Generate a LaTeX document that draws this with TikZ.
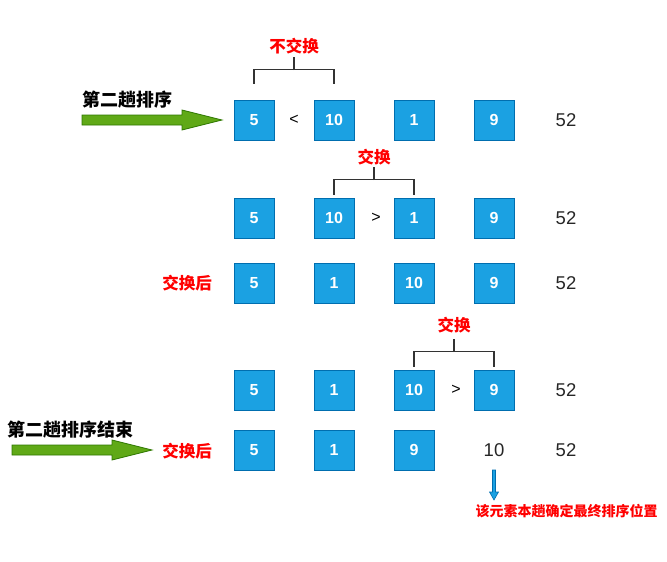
\documentclass[tikz,border=0pt]{standalone}
\usepackage{fontspec}
\setmainfont{Liberation Sans}
\newfontfamily\cjk{Noto Sans CJK SC}
\usetikzlibrary{arrows.meta}
\definecolor{boxfill}{HTML}{1BA1E2}
\definecolor{boxline}{HTML}{006EAF}
\definecolor{grfill}{HTML}{60A917}
\definecolor{grline}{HTML}{2D7600}
\definecolor{redtxt}{HTML}{FF0000}
\tikzset{
  numbox/.style={draw=boxline, fill=boxfill, line width=0.8pt, minimum width=40pt, minimum height=40pt, inner sep=0pt, text=white, font=\fontsize{16}{16}\selectfont\bfseries},
  plain/.style={inner sep=0pt, text=black!85, font=\fontsize{18.5}{18.5}\selectfont},
  cmp/.style={inner sep=0pt, font=\fontsize{16}{16}\selectfont},
  redlbl/.style={inner sep=0pt, text=redtxt, font=\cjk\fontsize{16.5}{16.5}\selectfont\bfseries},
  blklbl/.style={inner sep=0pt, text=black, font=\cjk\fontsize{18}{18}\selectfont\bfseries},
  bracket/.style={draw=black!80, line width=1.6pt},
  bigarrow/.style={draw=grline, fill=grfill, line width=0.8pt},
}
\begin{document}
\begin{tikzpicture}[x=1pt,y=-1pt]
\useasboundingbox (0,0) rectangle (667,562);
% row 1
\node[numbox] (a1) at (254,120) {5};
\node[cmp] (c1) at (294,120) {<};
\node[numbox] (b1) at (334,120) {10};
\node[numbox] (d1) at (414,120) {1};
\node[numbox] (e1) at (494,120) {9};
\node[plain] (f1) at (566,120) {52};
\draw[bracket] ([yshift=16pt]a1.north) -- ++(0,-14) -| ([yshift=16pt]b1.north);
\coordinate (t1) at (294,57);
\draw[bracket] (294,70) -- (t1);
\node[redlbl] (l1) at (294,46) {不交换};
% row 2
\node[numbox] (a2) at (254,218) {5};
\node[numbox] (b2) at (334,218) {10};
\node[cmp] (c2) at (376,218) {>};
\node[numbox] (d2) at (414,218) {1};
\node[numbox] (e2) at (494,218) {9};
\node[plain] (f2) at (566,218) {52};
\draw[bracket] ([yshift=3pt]b2.north) -- ++(0,-15) -| ([yshift=3pt]d2.north);
\coordinate (t2) at (374,167);
\draw[bracket] (374,180) -- (t2);
\node[redlbl] (l2) at (374,157) {交换};
% row 3
\node[redlbl] (h3) at (187,283) {交换后};
\node[numbox] (a3) at (254,283) {5};
\node[numbox] (b3) at (334,283) {1};
\node[numbox] (d3) at (414,283) {10};
\node[numbox] (e3) at (494,283) {9};
\node[plain] (f3) at (566,283) {52};
% row 4
\node[numbox] (a4) at (254,390) {5};
\node[numbox] (b4) at (334,390) {1};
\node[numbox] (d4) at (414,390) {10};
\node[cmp] (c4) at (456,390) {>};
\node[numbox] (e4) at (494,390) {9};
\node[plain] (f4) at (566,390) {52};
\draw[bracket] ([yshift=3pt]d4.north) -- ++(0,-15) -| ([yshift=3pt]e4.north);
\coordinate (t4) at (454,339);
\draw[bracket] (454,352) -- (t4);
\node[redlbl] (l4) at (454,325) {交换};
% row 5
\node[redlbl] (h5) at (187,451) {交换后};
\node[numbox] (a5) at (254,450) {5};
\node[numbox] (b5) at (334,450) {1};
\node[numbox] (d5) at (414,450) {9};
\node[plain] (e5) at (494,450) {10};
\node[plain] (f5) at (566,450) {52};
% big arrows
\node[blklbl] (s1) at (127,100) {第二趟排序};
\draw[bigarrow] (82,115) -- (182,115) -- (182,110) -- (222,120) -- (182,130) -- (182,125) -- (82,125) -- cycle;
\node[blklbl] (s5) at (70,430) {第二趟排序结束};
\draw[bigarrow] (12,445) -- (112,445) -- (112,440) -- (152,450) -- (112,460) -- (112,455) -- (12,455) -- cycle;
% small arrow
\coordinate (p1) at (494,469);
\coordinate (p2) at (494,500);
\draw[draw=boxline, fill=boxfill, line width=0.6pt] (492.5,470) -- (495.5,470) -- (495.5,492) -- (498.5,492) -- (494,500) -- (489.5,492) -- (492.5,492) -- cycle;
\node[inner sep=0pt, text=redtxt, font=\cjk\fontsize{14}{14}\selectfont\bfseries] (n5) at (566.5,511) {该元素本趟确定最终排序位置};
\end{tikzpicture}
\end{document}
